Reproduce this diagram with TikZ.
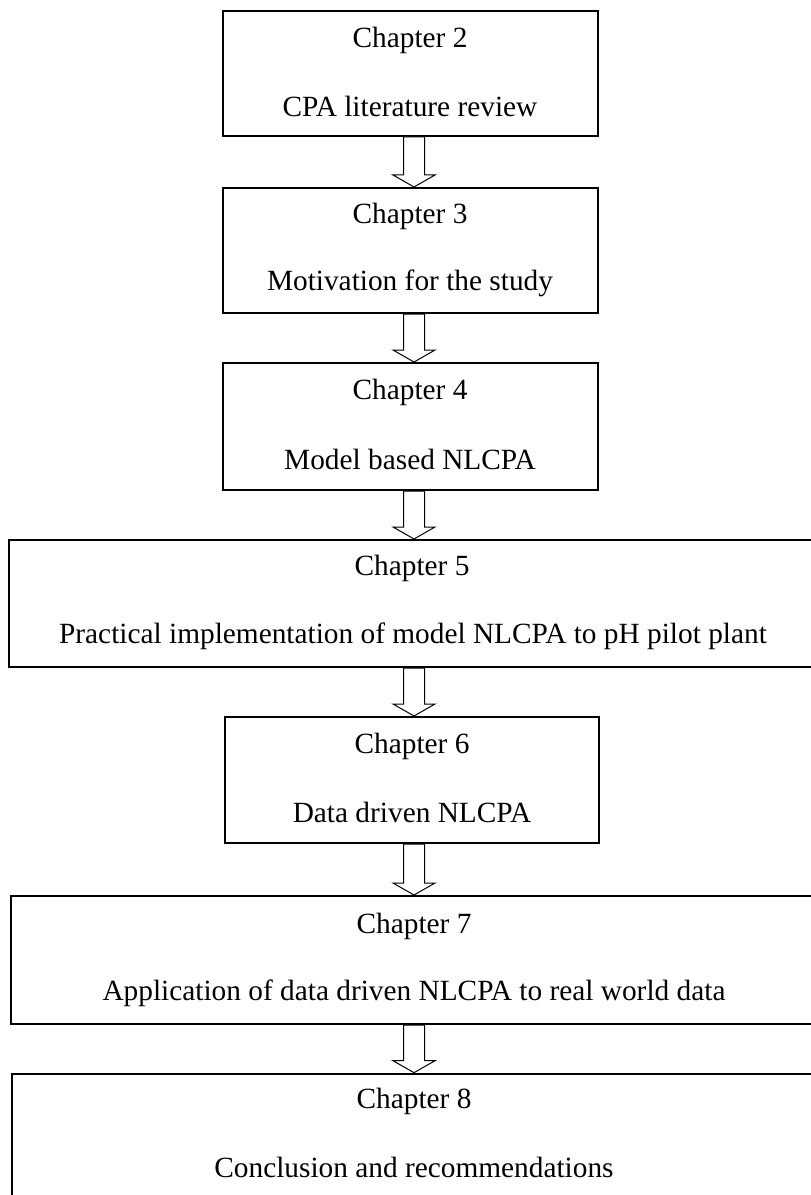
\documentclass[tikz,border=0pt]{standalone}
\usepackage{fontspec}
\setmainfont{Liberation Serif}
\usetikzlibrary{fit,calc}

\tikzset{
  box/.style={draw=black, line width=1.5pt, inner sep=0pt, fill=none},
  lastbox/.style={box, line width=2pt},
  lbl/.style={inner sep=0pt, font=\fontsize{22}{26}\selectfont},
  hollow/.style={draw=black, line width=0.75pt, line join=miter, fill=white}
}

% hollow block arrow from the bottom of one box to the top of the next
\newcommand\flowarrow[2]{%
  \draw[hollow] ($(#1.south -| ax)+(-10.5,0)$)
    -- ($(#2.north -| ax)+(-10.5,-12)$) -- ++(-10.5,0)
    -- (#2.north -| ax)
    -- ++(21,-12) -- ++(-10.5,0)
    -- ($(#1.south -| ax)+(10.5,0)$) -- cycle;}

\begin{document}
\begin{tikzpicture}[x=0.75pt, y=-0.75pt]
  \useasboundingbox (0,0) rectangle (810,1195);
  \coordinate (ax) at (414,0);

  % chapter boxes
  \node[box, fit={(223,11) (598,136)}]    (c2) {};
  \node[box, fit={(223,188) (598,313)}]   (c3) {};
  \node[box, fit={(223,363) (598,490)}]   (c4) {};
  \node[box, fit={(9,540) (822,667)}]     (c5) {};
  \node[box, fit={(225,717) (599,843)}]   (c6) {};
  \node[box, fit={(11,896) (822,1024)}]   (c7) {};
  \node[lastbox, fit={(12,1074) (822,1205)}] (c8) {};

  % box texts
  \node[lbl] (c2a) at (410,40)   {Chapter 2};
  \node[lbl] (c2b) at (410,106)  {CPA literature review};
  \node[lbl] (c3a) at (410,216)  {Chapter 3};
  \node[lbl] (c3b) at (410,283)  {Motivation for the study};
  \node[lbl] (c4a) at (410,392)  {Chapter 4};
  \node[lbl] (c4b) at (410,459)  {Model based NLCPA};
  \node[lbl] (c5a) at (412,568)  {Chapter 5};
  \node[lbl] (c5b) at (413,636)  {Practical implementation of model NLCPA to pH pilot plant};
  \node[lbl] (c6a) at (412,746)  {Chapter 6};
  \node[lbl] (c6b) at (412,812)  {Data driven NLCPA};
  \node[lbl] (c7a) at (414,926)  {Chapter 7};
  \node[lbl] (c7b) at (414,993)  {Application of data driven NLCPA to real world data};
  \node[lbl] (c8a) at (414,1101) {Chapter 8};
  \node[lbl] (c8b) at (414,1167) {Conclusion and recommendations};

  % arrows between the chapters
  \flowarrow{c2}{c3}
  \flowarrow{c3}{c4}
  \flowarrow{c4}{c5}
  \flowarrow{c5}{c6}
  \flowarrow{c6}{c7}
  \flowarrow{c7}{c8}
\end{tikzpicture}
\end{document}
